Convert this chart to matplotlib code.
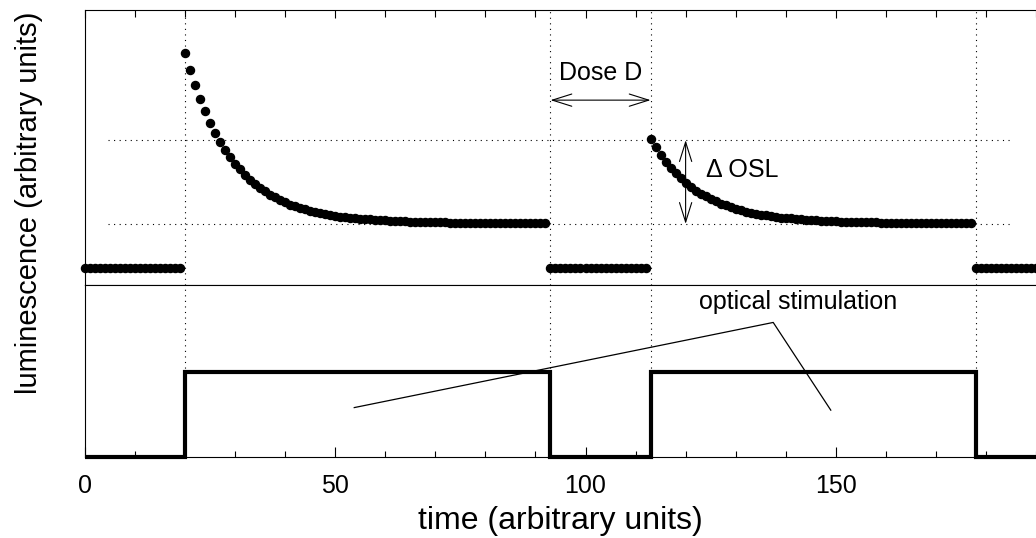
import numpy as np
import matplotlib
matplotlib.use('Agg')
import matplotlib.pyplot as plt
from matplotlib.ticker import MultipleLocator

plt.rcParams['font.family'] = ['Liberation Sans', 'DejaVu Sans']

# luminescence read-out, one sample per time unit
t_dark1 = np.arange(0, 20)
lum_dark1 = [0.0] * 20

t_decay1 = np.arange(20, 93)
lum_decay1 = [4.78, 4.40, 4.06, 3.76, 3.48, 3.23, 3.01, 2.81, 2.63, 2.46,
              2.32, 2.19, 2.07, 1.96, 1.86, 1.78, 1.70, 1.63, 1.57, 1.51,
              1.46, 1.41, 1.37, 1.34, 1.30, 1.27, 1.24, 1.22, 1.20, 1.18,
              1.16, 1.14, 1.13, 1.12, 1.11, 1.09, 1.08, 1.08, 1.07, 1.06,
              1.06, 1.05, 1.05, 1.04, 1.04, 1.03, 1.03, 1.03, 1.02, 1.02,
              1.02, 1.02, 1.02, 1.01, 1.01, 1.01, 1.01, 1.01, 1.01, 1.01,
              1.01, 1.01, 1.01, 1.00, 1.00, 1.00, 1.00, 1.00, 1.00, 1.00,
              1.00, 1.00, 1.00]

t_dark2 = np.arange(93, 113)
lum_dark2 = [0.0] * 20

t_decay2 = np.arange(113, 178)
lum_decay2 = [2.87, 2.68, 2.51, 2.36, 2.23, 2.10, 1.99, 1.89, 1.80, 1.72,
              1.65, 1.59, 1.53, 1.48, 1.43, 1.39, 1.35, 1.31, 1.28, 1.25,
              1.23, 1.20, 1.18, 1.17, 1.15, 1.13, 1.12, 1.11, 1.10, 1.09,
              1.08, 1.07, 1.06, 1.06, 1.05, 1.05, 1.04, 1.04, 1.03, 1.03,
              1.03, 1.02, 1.02, 1.02, 1.02, 1.02, 1.01, 1.01, 1.01, 1.01,
              1.01, 1.01, 1.01, 1.01, 1.01, 1.00, 1.00, 1.00, 1.00, 1.00,
              1.00, 1.00, 1.00, 1.00, 1.00]

t_dark3 = np.arange(178, 191)
lum_dark3 = [0.0] * 13

# optical stimulation on/off
stim_edges = [0, 20, 93, 113, 178, 190]
stim_on = [0, 1, 0, 1, 0]

event_times = [20, 93, 113, 178]
ref_levels = [2.84, 0.98]

fig = plt.figure(figsize=(10.36, 5.38), dpi=100)
ax1 = fig.add_axes([0.082, 0.4703, 0.918, 0.5111])
ax2 = fig.add_axes([0.082, 0.1506, 0.918, 0.3197], sharex=ax1)

# upper panel: luminescence
for t, lum in [(t_dark1, lum_dark1), (t_decay1, lum_decay1), (t_dark2, lum_dark2),
               (t_decay2, lum_decay2), (t_dark3, lum_dark3)]:
    ax1.plot(t, lum, 'o', color='black', ms=5.8, mec='black', clip_on=False, zorder=3)

for lvl in ref_levels:
    ax1.plot([4.6, 185], [lvl, lvl], color='black', lw=0.8, ls=(0, (1, 4)), zorder=1)

for ax in (ax1, ax2):
    for te in event_times:
        ax.axvline(te, color='black', lw=0.8, ls=(0, (1, 4)), zorder=1)

ax1.annotate('', xy=(93, 3.73), xytext=(113, 3.73),
             arrowprops=dict(arrowstyle='<->, head_length=0.7, head_width=0.22',
                             lw=0.8, color='black', shrinkA=0, shrinkB=0,
                             mutation_scale=20))
ax1.text(103, 4.33, 'Dose D', ha='center', va='center', fontsize=18)

ax1.annotate('', xy=(120, 2.84), xytext=(120, 0.98),
             arrowprops=dict(arrowstyle='<->, head_length=0.7, head_width=0.22',
                             lw=0.8, color='black', shrinkA=0, shrinkB=0,
                             mutation_scale=20))
ax1.text(124, 2.18, '\u0394 OSL', ha='left', va='center', fontsize=18)

ax1.set_ylim(-0.378, 5.733)
ax1.set_yticks([])
ax1.tick_params(axis='x', which='both', top=True, bottom=False, labelbottom=False,
                direction='in', width=0.8)
ax1.tick_params(axis='x', which='major', length=6)
ax1.tick_params(axis='x', which='minor', length=5)

# lower panel: stimulation
ax2.stairs(stim_on, stim_edges, baseline=None, color='black', lw=3, clip_on=False, zorder=3)
ax2.text(142.4, 1.82, 'optical stimulation', ha='center', va='center', fontsize=18)
ax2.plot([53.8, 137.5, 149], [0.58, 1.58, 0.55], color='black', lw=0.9)

ax2.set_ylim(0, 2.02)
ax2.set_yticks([])
ax2.set_xlim(0, 190)
ax2.xaxis.set_major_locator(MultipleLocator(50))
ax2.xaxis.set_minor_locator(MultipleLocator(10))
ax2.tick_params(axis='x', which='both', direction='in', top=False, width=0.8,
                labelsize=18, pad=12)
ax2.tick_params(axis='x', which='major', length=7)
ax2.tick_params(axis='x', which='minor', length=4.3)
ax2.set_xlabel('time (arbitrary units)', fontsize=23, va='center')
ax2.xaxis.set_label_coords(0.5, -0.375)

for ax in (ax1, ax2):
    ax.spines['right'].set_visible(False)
    for s in ('left', 'top', 'bottom'):
        ax.spines[s].set_linewidth(0.8)

fig.text(0.028, 0.623, 'luminescence (arbitrary units)', rotation=90,
         ha='center', va='center', fontsize=21)

fig.savefig('out.png', dpi=100)
